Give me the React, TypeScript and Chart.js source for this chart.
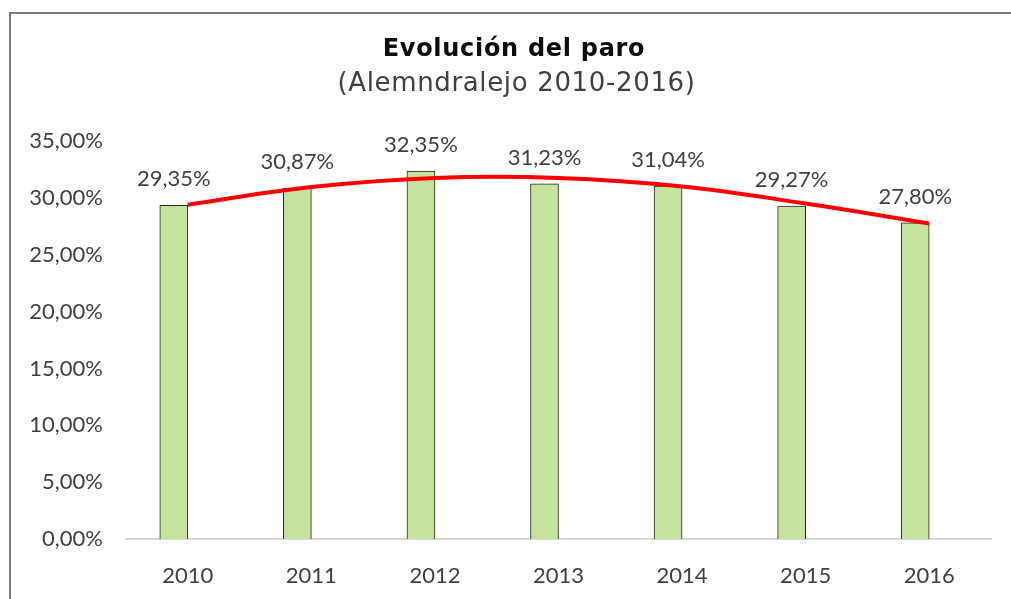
import React, { useEffect, useRef } from "react";
import { Chart, registerables } from "chart.js";

Chart.register(...registerables);

const years = ["2010", "2011", "2012", "2013", "2014", "2015", "2016"];
const paro = [29.35, 30.87, 32.35, 31.23, 31.04, 29.27, 27.8];
// trend line (polynomial trendline in the original)
const trend = [29.4, 30.95, 31.75, 31.75, 31.0, 29.5, 27.75];
// empty second series that reserves the right half of every category slot
const spacer = [null, null, null, null, null, null, null];
const yTicks = { min: 0, max: 35, step: 5 };

const titleText = "Evolución del paro";
const subtitleText = "(Alemndralejo 2010-2016)";

const fmt = (v: number) => v.toFixed(2).replace(".", ",") + "%";

const labelFont = "Lato, 'Open Sans', sans-serif";
const titleFont = "'DejaVu Sans', sans-serif";

const dataLabels = {
  id: "dataLabels",
  afterDatasetsDraw(chart: any) {
    const ctx = chart.ctx;
    const meta = chart.getDatasetMeta(0);
    ctx.save();
    ctx.font = `22px ${labelFont}`;
    ctx.fillStyle = "#404040";
    ctx.textAlign = "center";
    ctx.textBaseline = "middle";
    meta.data.forEach((bar: any, i: number) => {
      ctx.fillText(fmt(paro[i]), bar.x, bar.y - 26);
    });
    ctx.restore();
  },
};

export default function App() {
  const ref = useRef<HTMLCanvasElement>(null);

  useEffect(() => {
    if (!ref.current) return;
    const chart = new Chart(ref.current, {
      type: "bar",
      data: {
        labels: years,
        datasets: [
          {
            type: "bar",
            label: "Paro",
            data: paro,
            backgroundColor: "#c4e39c",
            borderColor: "#262626",
            borderWidth: 1,
            barThickness: 28,
            order: 2,
          },
          {
            type: "bar",
            label: "Serie 2",
            data: spacer as any,
            backgroundColor: "transparent",
            barThickness: 28,
            order: 3,
          },
          {
            type: "line",
            label: "Tendencia",
            data: trend,
            borderColor: "#ff0000",
            borderWidth: 4,
            pointRadius: 0,
            tension: 0.4,
            fill: false,
            order: 1,
          } as any,
        ],
      },
      options: {
        responsive: false,
        animation: false,
        layout: { padding: { left: 0, right: 20, top: 141, bottom: 0 } },
        plugins: {
          legend: { display: false },
          tooltip: { enabled: false },
          title: { display: false },
        },
        scales: {
          x: {
            grid: { display: false, drawTicks: false },
            border: { display: true, color: "#d9d9d9", width: 2 },
            ticks: {
              color: "#404040",
              font: { family: labelFont, size: 22 },
              padding: 24,
            },
            afterFit: (scale: any) => {
              scale.height = 60;
            },
          },
          y: {
            min: yTicks.min,
            max: yTicks.max,
            grid: { display: false, drawTicks: false },
            border: { display: false },
            ticks: {
              stepSize: yTicks.step,
              color: "#404040",
              font: { family: labelFont, size: 22 },
              padding: 23,
              callback: (v: any) => fmt(Number(v)),
            },
            afterFit: (scale: any) => {
              scale.width = 126;
            },
          },
        },
      },
      plugins: [dataLabels],
    });
    return () => chart.destroy();
  }, []);

  return (
    <div
      style={{
        position: "fixed",
        left: 0,
        top: 0,
        width: 1011,
        height: 599,
        overflow: "hidden",
        background: "#ffffff",
      }}
    >
      <div
        style={{
          position: "absolute",
          left: 9,
          top: 12,
          width: 1100,
          height: 700,
          border: "2px solid #7b7b7b",
        }}
      />
      <canvas
        ref={ref}
        width={1011}
        height={599}
        style={{ position: "absolute", left: 0, top: 0 }}
      />
      <div
        style={{
          position: "absolute",
          left: 0,
          width: 1028,
          top: 34,
          height: 28,
          lineHeight: "28px",
          textAlign: "center",
          fontFamily: titleFont,
          fontWeight: "bold",
          fontSize: 24,
          letterSpacing: 0.7,
          color: "#0d0d0d",
          whiteSpace: "nowrap",
        }}
      >
        {titleText}
      </div>
      <div
        style={{
          position: "absolute",
          left: 0,
          width: 1033,
          top: 66,
          height: 32,
          lineHeight: "32px",
          textAlign: "center",
          fontFamily: titleFont,
          fontWeight: "normal",
          fontSize: 26,
          letterSpacing: 0.65,
          color: "#404040",
          whiteSpace: "nowrap",
        }}
      >
        {subtitleText}
      </div>
    </div>
  );
}
